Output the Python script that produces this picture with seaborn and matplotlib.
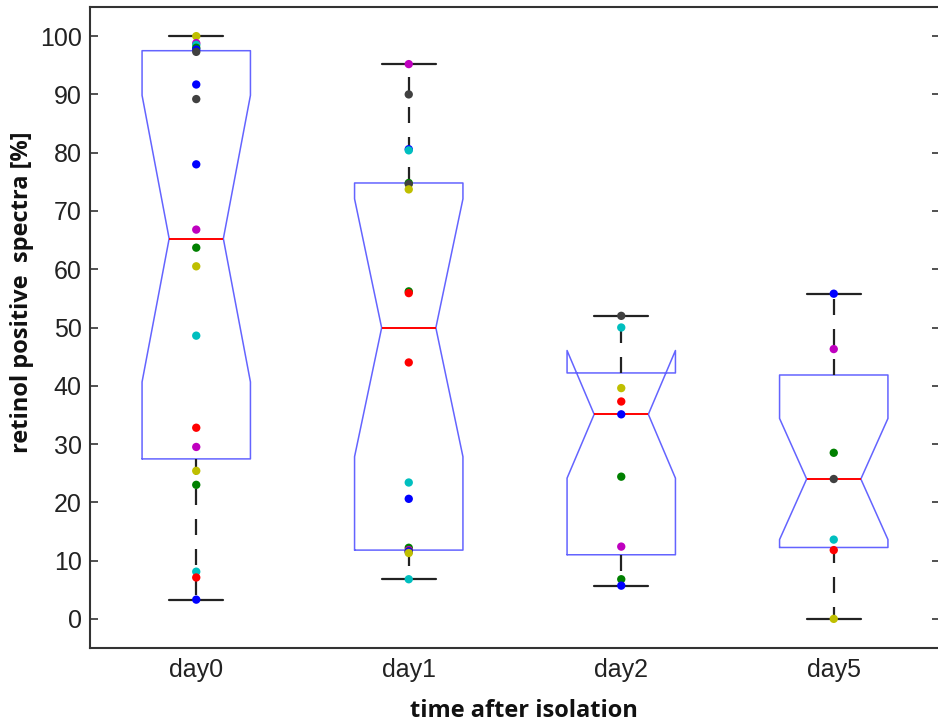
import numpy as np
import pandas as pd
import seaborn as sns
import matplotlib.pyplot as plt

# values, one list per day, with the colour of each dot
days = ['day0', 'day1', 'day2', 'day5']
day0_vals = [100.0, 98.8, 98.5, 98.0, 97.7, 97.3, 91.7, 89.2, 78.0, 66.8,
             63.7, 60.5, 48.6, 32.8, 29.5, 25.4, 23.0, 8.1, 7.1, 3.3]
day0_cols = ['y', 'm', 'c', 'g', 'b', 'k', 'b', 'k', 'b', 'm',
             'g', 'y', 'c', 'r', 'm', 'y', 'g', 'c', 'r', 'b']
day1_vals = [95.2, 90.0, 80.6, 80.4, 74.8, 74.6, 73.7, 56.2, 55.9, 44.0,
             23.4, 20.6, 12.2, 11.8, 11.6, 11.5, 11.3, 6.8]
day1_cols = ['m', 'k', 'b', 'c', 'g', 'k', 'y', 'g', 'r', 'r',
             'c', 'b', 'g', 'm', 'k', 'b', 'y', 'c']
day2_vals = [52.0, 50.0, 39.6, 37.3, 35.1, 24.4, 12.4, 6.8, 5.7]
day2_cols = ['k', 'c', 'y', 'r', 'b', 'g', 'm', 'g', 'b']
day5_vals = [55.8, 46.3, 28.5, 24.0, 13.6, 11.8, 0.0]
day5_cols = ['b', 'm', 'g', 'k', 'c', 'r', 'y']

groups = [day0_vals, day1_vals, day2_vals, day5_vals]
group_cols = [day0_cols, day1_cols, day2_cols, day5_cols]
n_rows = max(len(g) for g in groups)  # padded matrix size used for the notches

palette = {'b': '#0000ff', 'g': '#008000', 'r': '#ff0000', 'c': '#00bfbf',
           'm': '#bf00bf', 'y': '#bfbf00', 'k': '#404040'}

rows = []
for d, vals, cols in zip(days, groups, group_cols):
    for v, c in zip(vals, cols):
        rows.append({'day': d, 'value': v, 'col': c})
df = pd.DataFrame(rows)

# box statistics (hazen quartiles, 1.5 IQR whiskers)
stats = []
for vals in groups:
    a = np.array(vals)
    q1, med, q3 = np.percentile(a, [25, 50, 75], method='hazen')
    iqr = q3 - q1
    lo = a[a >= q1 - 1.5 * iqr].min()
    hi = a[a <= q3 + 1.5 * iqr].max()
    half = 1.57 * iqr / np.sqrt(n_rows)
    stats.append({'med': med, 'q1': q1, 'q3': q3, 'whislo': lo, 'whishi': hi,
                  'cilo': med - half, 'cihi': med + half, 'fliers': []})

sns.set_style('white')
plt.rcParams['font.family'] = ['Liberation Sans', 'DejaVu Sans']

fig = plt.figure(figsize=(9.38, 7.24), dpi=100)
ax = fig.add_axes([90 / 938, 1 - 648 / 724, 850 / 938, 641 / 724])

ax.bxp(stats, positions=range(4), widths=0.51, shownotches=True,
       showfliers=False, manage_ticks=False,
       boxprops=dict(color='#6464ff', lw=1.1),
       whiskerprops=dict(color='#222222', lw=1.6, linestyle=(0, (7.2, 6.3))),
       capprops=dict(color='#222222', lw=1.6),
       medianprops=dict(color='#ff0000', lw=1.4))

sns.stripplot(data=df, x='day', y='value', hue='col', palette=palette,
              order=days, jitter=False, size=6, linewidth=0, legend=False,
              zorder=3, ax=ax)

ax.set_xlim(-0.5, 3.5)
ax.set_ylim(-5, 105)
ax.set_yticks(range(0, 101, 10))
ax.set_xticks(range(4))
ax.set_xticklabels(days)
ax.tick_params(axis='y', direction='in', length=6, width=1.2, color='#333333',
               right=True, left=True, labelsize=18, labelcolor='#222222', pad=6)
ax.tick_params(axis='x', length=0, labelsize=18, labelcolor='#222222', pad=7)
for s in ax.spines.values():
    s.set_color('#333333')
    s.set_linewidth(1.5)

ax.set_xlabel('time after isolation', family=['Open Sans', 'DejaVu Sans'],
              fontweight='bold', fontsize=17, color='#111111')
ax.set_ylabel('retinol positive  spectra [%]', family=['Open Sans', 'DejaVu Sans'],
              fontweight='bold', fontsize=17, color='#111111')
ax.xaxis.set_label_coords(0.51, -0.08)
ax.xaxis.label.set_va('top')
ax.yaxis.set_label_coords(-0.066, 0.555)

fig.savefig('out.png', dpi=100)
